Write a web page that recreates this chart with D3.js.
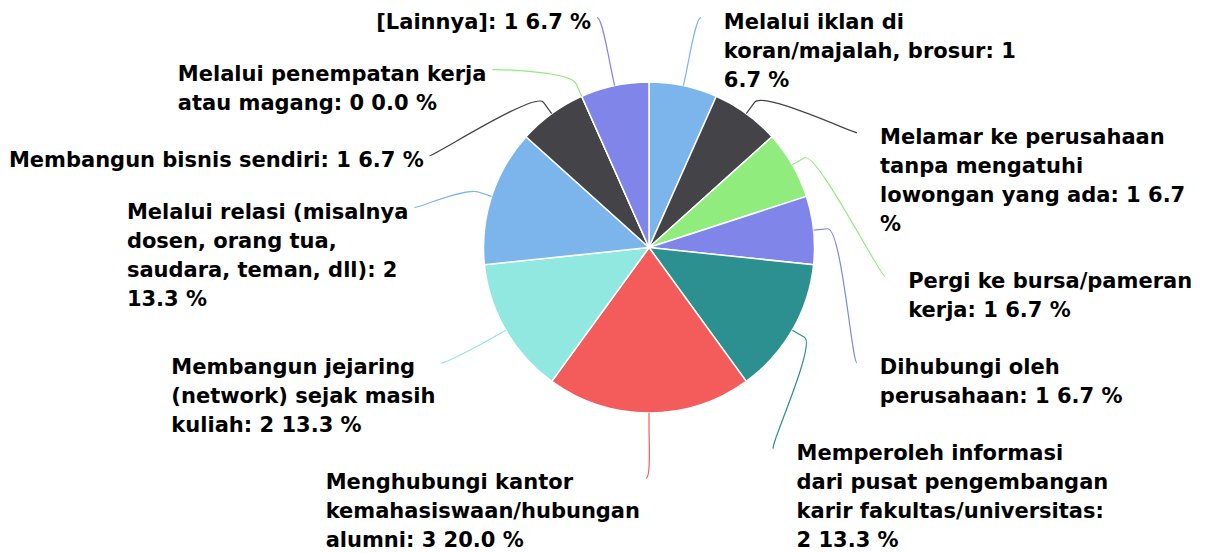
<!DOCTYPE html>
<html>
<head>
<meta charset="utf-8">
<script src="https://cdn.jsdelivr.net/npm/d3@7/dist/d3.min.js"></script>
<style>
  html, body { margin: 0; padding: 0; background: #fff; }
</style>
</head>
<body>
<div id="chart"></div>
<script>
"use strict";

// data
const categories = [
  "Melalui iklan di koran/majalah, brosur",
  "Melamar ke perusahaan tanpa mengatuhi lowongan yang ada",
  "Pergi ke bursa/pameran kerja",
  "Dihubungi oleh perusahaan",
  "Memperoleh informasi dari pusat pengembangan karir fakultas/universitas",
  "Menghubungi kantor kemahasiswaan/hubungan alumni",
  "Membangun jejaring (network) sejak masih kuliah",
  "Melalui relasi (misalnya dosen, orang tua, saudara, teman, dll)",
  "Membangun bisnis sendiri",
  "Melalui penempatan kerja atau magang",
  "[Lainnya]"
];
const counts = [1, 1, 1, 1, 2, 3, 2, 2, 1, 0, 1];
// how many words go on each wrapped label line
const lineWords = [
  [3, 3, 2], [3, 2, 5, 1], [3, 4], [2, 4], [2, 3, 2, 3], [2, 1, 4],
  [2, 3, 4], [3, 3, 4, 2], [6], [3, 5], [4]
];
const colors = ["#7cb5ec", "#434348", "#90ed7d", "#8085e9", "#2b908f", "#f45b5b", "#91e8e1"];

const width = 1205;
const height = 553;
const cx = 649;
const cy = 247.5;
const radius = 165.5;
const labelR = 235;
const lineH = 29;
const fontSize = 21;
const font = "'DejaVu Sans', Verdana, sans-serif";

const total = d3.sum(counts);

const svg = d3.select("#chart")
  .append("svg")
  .attr("width", width)
  .attr("height", height);

let g = svg.append("g").attr("transform", `translate(${cx},${cy})`);

const pie = d3.pie().sort(null).value(d => d);
const arcs = pie(counts);
const arc = d3.arc().innerRadius(0).outerRadius(radius);

g.selectAll(".slice")
  .data(arcs)
  .enter()
  .append("path")
  .attr("class", "slice")
  .attr("d", arc)
  .attr("fill", (d, i) => colors[i % colors.length])
  .attr("stroke", "#fff")
  .attr("stroke-width", 1.5)
  .attr("stroke-linejoin", "round");

// build labels
const labels = arcs.map((d, i) => {
  const mid = (d.startAngle + d.endAngle) / 2;
  const pct = (counts[i] / total * 100).toFixed(1);
  const words = `${categories[i]}: ${counts[i]} ${pct} %`.split(" ");
  let k = 0;
  const lines = lineWords[i].map(n => {
    const l = words.slice(k, k + n).join(" ");
    k += n;
    return l;
  });
  return {
    i, mid, lines,
    left: mid >= Math.PI - 1e-9,
    target: -labelR * Math.cos(mid),
    h: lines.length * lineH + (lines.length > 1 ? 28 : 23)
  };
});

// spread labels vertically on each side
function distribute(list) {
  list.sort((a, b) => a.target - b.target);
  const minY = 17 - cy;
  const maxBottom = 593 - cy;
  list.forEach((l, j) => {
    l.y = Math.max(l.target, minY, j ? list[j - 1].y + list[j - 1].h : -Infinity);
    l.clamped = l.y === minY;
  });
  for (let j = list.length - 1; j >= 0; j--) {
    const l = list[j];
    const byBound = maxBottom - l.h;
    const byNext = j < list.length - 1 ? list[j + 1].y - l.h : Infinity;
    if (l.y > Math.min(byBound, byNext)) {
      l.clamped = byBound <= byNext;
      l.y = Math.min(byBound, byNext);
    }
  }
}
distribute(labels.filter(l => !l.left));
distribute(labels.filter(l => l.left));

labels.forEach(l => {
  const dy = l.clamped ? l.target : l.y;
  const dx = Math.sqrt(Math.max(0, labelR * labelR - dy * dy)) + 3;
  l.xEnd = l.left ? -dx : dx;
});

// connectors
g.selectAll(".connector")
  .data(labels)
  .enter()
  .append("path")
  .attr("class", "connector")
  .attr("fill", "none")
  .attr("stroke", l => colors[l.i % colors.length])
  .attr("stroke-width", 1.2)
  .attr("d", l => {
    const sx = Math.sin(l.mid), sy = -Math.cos(l.mid);
    const e = [sx * radius, sy * radius];
    const b = [sx * (radius + 14), sy * (radius + 14)];
    const p = d3.path();
    p.moveTo(l.xEnd, l.y);
    p.bezierCurveTo(l.xEnd + (l.left ? 5 : -5), l.y, 2 * b[0] - e[0], 2 * b[1] - e[1], b[0], b[1]);
    p.lineTo(e[0], e[1]);
    return p.toString();
  });

// label text
labels.forEach(l => {
  const t = g.append("text")
    .attr("font-family", font)
    .attr("font-weight", "bold")
    .attr("font-size", fontSize)
    .attr("fill", "#000");
  const spans = l.lines.map((ln, k) =>
    t.append("tspan").attr("y", l.y + 11 + k * lineH).text(ln)
  );
  let x = l.xEnd + 23;
  if (l.left) {
    const w = d3.max(spans, s => s.node().getComputedTextLength());
    x = l.xEnd - 6 - w;
  }
  spans.forEach(s => s.attr("x", x));
});
</script>
</body>
</html>
